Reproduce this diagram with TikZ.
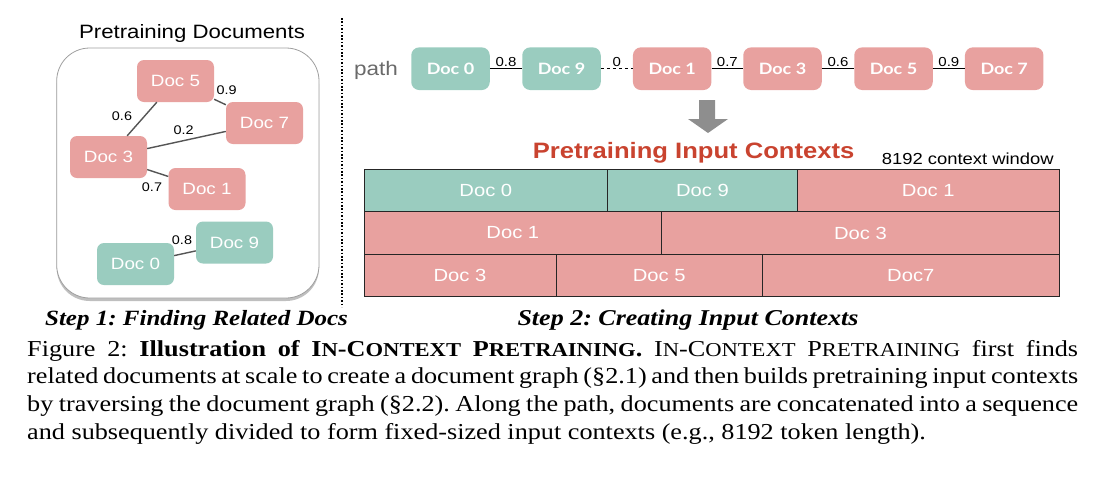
\documentclass[tikz,border=0pt]{standalone}
\usepackage{fontspec}
\setmainfont{Liberation Serif}
\setsansfont{Liberation Sans}
\newfontfamily\latofont{Lato}
\usetikzlibrary{shadows}
\definecolor{docgreen}{HTML}{9ACCBF}
\definecolor{docpink}{HTML}{E8A19F}
\definecolor{titlered}{HTML}{C9432F}
\definecolor{arrowgray}{HTML}{8E8E8E}
\definecolor{edgegray}{HTML}{555555}
\definecolor{pathgray}{HTML}{6A6A6A}
\newcommand\sq[1]{\scalebox{1}[0.87]{#1}}
\newcommand\fsc[1]{{\fontsize{22.6}{31.8}\selectfont #1}}
\frenchspacing
\begin{document}
\begin{tikzpicture}[x=1pt,y=-1pt,
 gdoc/.style={rounded corners=7pt, minimum width=77pt, minimum height=42pt, inner sep=0pt, text=white, font=\sffamily\fontsize{18.8}{20}\selectfont},
 pdoc/.style={rounded corners=8pt, minimum width=78.5pt, minimum height=42.7pt, inner sep=0pt, text=white, font=\latofont\bfseries\fontsize{18}{20}\selectfont},
 blk/.style={draw=black!85, line width=1pt, inner sep=0pt, outer sep=0pt, text=white, font=\sffamily\fontsize{20.2}{22}\selectfont},
 gfill/.style={fill=docgreen}, pfill/.style={fill=docpink},
 gedge/.style={draw=edgegray, line width=1.4pt},
 glabel/.style={font=\sffamily\fontsize{14.4}{16}\selectfont, inner sep=0pt},
 pedge/.style={draw=black, line width=1.4pt},
 plabel/.style={font=\sffamily\fontsize{15}{16}\selectfont, inner sep=1.5pt, above},
 steplbl/.style={font=\bfseries\itshape\fontsize{25}{28}\selectfont, anchor=base, inner sep=0pt}
]
\useasboundingbox (0,0) rectangle (1106,488);

% ---------- Step 1 ----------
\node[font=\sffamily\fontsize{22.2}{24}\selectfont, anchor=base, inner sep=0pt] (t1) at (192,38) {\sq{Pretraining Documents}};
\node[draw=gray!75, line width=0.8pt, rounded corners=33pt, minimum width=262.3pt, minimum height=250pt, fill=white,
      drop shadow={shadow xshift=0pt, shadow yshift=-3pt, opacity=0.5}] (box) at (187.85,173) {};

\node[gdoc,pfill] (g5) at (175.5,81) {\sq{Doc 5}};
\node[gdoc,pfill] (g7) at (264.5,123) {\sq{Doc 7}};
\node[gdoc,pfill] (g3) at (108.5,157) {\sq{Doc 3}};
\node[gdoc,pfill] (g1) at (207,189) {\sq{Doc 1}};
\node[gdoc,gfill] (g9) at (234.5,242.5) {\sq{Doc 9}};
\node[gdoc,gfill] (g0) at (135.5,264) {\sq{Doc 0}};

\draw[gedge] (g5) -- (g7);
\draw[gedge] (g5) -- (g3);
\draw[gedge] (g3) -- (g7);
\draw[gedge] (g3) -- (g1);
\draw[gedge] (g0) -- (g9);

\node[glabel] (l57) at (226.7,90) {\sq{0.9}};
\node[glabel] (l53) at (122,116) {\sq{0.6}};
\node[glabel] (l37) at (183.7,130) {\sq{0.2}};
\node[glabel] (l31) at (152,187.5) {\sq{0.7}};
\node[glabel] (l09) at (182,239.7) {\sq{0.8}};

\node[steplbl] (s1) at (196.5,325) {\sq{Step 1: Finding Related Docs}};

% divider
\coordinate (dvt) at (342,18);
\coordinate (dvb) at (342,307);
\draw[line width=1.4pt, dash pattern=on 1.6pt off 1.8pt] (dvt) -- (dvb);

% ---------- Step 2 ----------
\node[font=\sffamily\fontsize{22.5}{24}\selectfont, text=pathgray, anchor=base west, inner sep=0pt] (pathlbl) at (354,75.7) {\sq{path}};

\node[pdoc,gfill] (p0) at (450.5,68.7) {\sq{Doc 0}};
\node[pdoc,gfill] (p9) at (561.5,68.7) {\sq{Doc 9}};
\node[pdoc,pfill] (p1) at (672.2,68.7) {\sq{Doc 1}};
\node[pdoc,pfill] (p3) at (782.5,68.7) {\sq{Doc 3}};
\node[pdoc,pfill] (p5) at (893.5,68.7) {\sq{Doc 5}};
\node[pdoc,pfill] (p7) at (1004.2,68.7) {\sq{Doc 7}};

\draw[pedge] (p0) -- node[plabel] (e09) {\sq{0.8}} (p9);
\draw[pedge, dash pattern=on 3pt off 3pt] (p9) -- node[plabel] (e91) {\sq{0}} (p1);
\draw[pedge] (p1) -- node[plabel] (e13) {\sq{0.7}} (p3);
\draw[pedge] (p3) -- node[plabel] (e35) {\sq{0.6}} (p5);
\draw[pedge] (p5) -- node[plabel] (e57) {\sq{0.9}} (p7);

\fill[arrowgray] (699,100) -- (715,100) -- (715,119) -- (728,119) -- (708,133) -- (688,119) -- (699,119) -- cycle;

\node[font=\sffamily\bfseries\fontsize{25.6}{28}\selectfont, text=titlered, anchor=base west, inner sep=0pt] (t2) at (532.7,158.3) {\sq{Pretraining Input Contexts}};
\node[font=\sffamily\fontsize{18.4}{20}\selectfont, anchor=base west, inner sep=0pt] (cw) at (881.7,164) {\sq{8192 context window}};

% context blocks
\node[blk,gfill,minimum width=243.7pt,minimum height=42.4pt] (r1a) at (485.85,190.5) {\sq{Doc 0}};
\node[blk,gfill,minimum width=189.6pt,minimum height=42.4pt] (r1b) at (702.5,190.5) {\sq{Doc 9}};
\node[blk,pfill,minimum width=262pt,minimum height=42.4pt] (r1c) at (928.3,190.5) {\sq{Doc 1}};
\node[blk,pfill,minimum width=297.7pt,minimum height=42.6pt] (r2a) at (512.85,233) {\sq{Doc 1}};
\node[blk,pfill,minimum width=397.6pt,minimum height=42.6pt] (r2b) at (860.5,233) {\sq{Doc 3}};
\node[blk,pfill,minimum width=192pt,minimum height=42.4pt] (r3a) at (460,275.5) {\sq{Doc 3}};
\node[blk,pfill,minimum width=206.3pt,minimum height=42.4pt] (r3b) at (659.15,275.5) {\sq{Doc 5}};
\node[blk,pfill,minimum width=297pt,minimum height=42.4pt] (r3c) at (910.8,275.5) {\sq{Doc7}};

\node[steplbl, font=\bfseries\itshape\fontsize{26}{28}\selectfont] (s2) at (688,325) {\sq{Step 2: Creating Input Contexts}};

% ---------- caption ----------
\node[anchor=base west, inner sep=0pt] (cap) at (27,356) {\sq{\parbox[t]{1051pt}{\fontsize{26.2}{31.8}\selectfont\frenchspacing\tolerance=10000
Figure 2: \textbf{Illustration of I\fsc{N}-C\fsc{ONTEXT} P\fsc{RETRAINING}.} I\fsc{N}-C\fsc{ONTEXT} P\fsc{RETRAINING} first finds\linebreak
related documents at scale to create a document graph (§2.1) and then builds pretraining input contexts\linebreak
by traversing the document graph (§2.2). Along the path, documents are concatenated into a sequence\linebreak
and subsequently divided to form fixed-sized input contexts (e.g., 8192 token length).}}};
\end{tikzpicture}
\end{document}
